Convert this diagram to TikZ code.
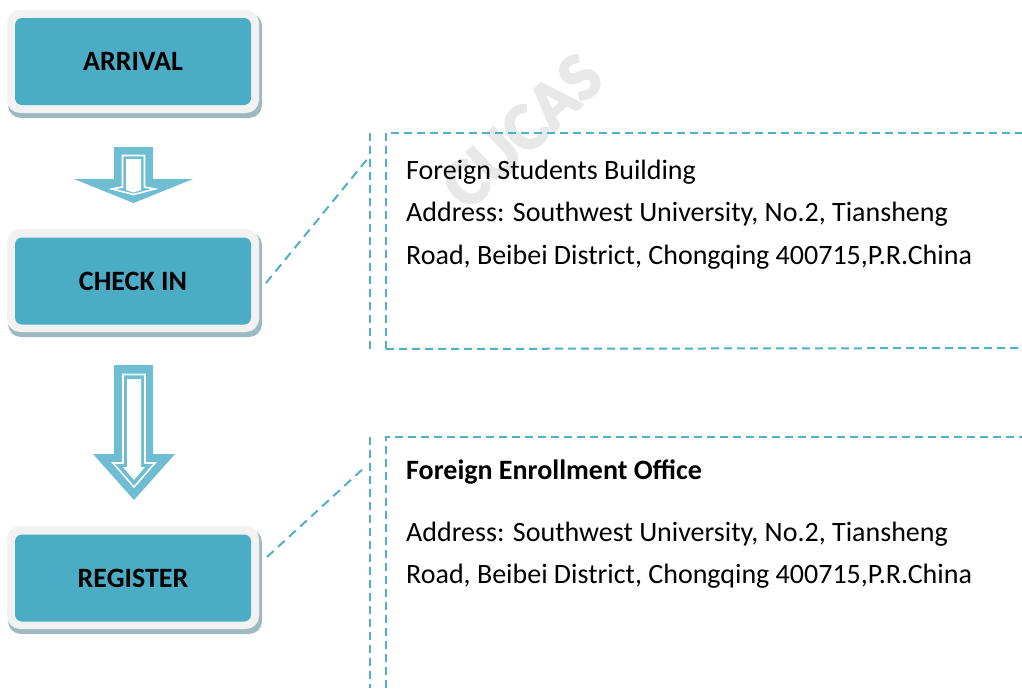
\documentclass[tikz,border=0pt]{standalone}
\usepackage{fontspec}
\setmainfont{Carlito}
\newfontfamily\markfont[FakeBold=3]{Carlito Bold}
\definecolor{boxfill}{HTML}{4BACC6}
\definecolor{rimcol}{HTML}{F2F2F2}
\definecolor{shadecol}{HTML}{9DB9C2}
\definecolor{arrowcol}{HTML}{6FBDD3}
\definecolor{dashcol}{HTML}{4FB0C8}
\definecolor{markcol}{HTML}{E8E8E8}
\tikzset{
  x=1pt,y=-1pt,
  stepbox/.style={rectangle,rounded corners=7pt,fill=boxfill,minimum width=236pt,minimum height=87pt,inner sep=0pt,text=black,font=\fontsize{28}{32}\selectfont\bfseries},
  rim/.style={fill=rimcol,rounded corners=13pt},
  shade/.style={fill=shadecol,rounded corners=13pt},
  dashline/.style={draw=dashcol,line width=2pt,dash pattern=on 8pt off 5pt},
  linkline/.style={draw=dashcol,line width=2pt,dash pattern=on 9pt off 6pt},
  arrowbody/.style={fill=arrowcol},
  arrowline/.style={draw=white,line width=1.6pt,fill=arrowcol},
  inwhite/.style={fill=white},
  info/.style={anchor=base west,inner sep=0pt,text=black,font=\fontsize{28}{32}\selectfont},
}
\newcommand{\stepshape}[1]{%
  \fill[shade] (8,#1+3) rectangle (262,#1+108);
  \fill[rim] (7,#1) rectangle (259,#1+103);
}
\begin{document}
\begin{tikzpicture}
\useasboundingbox (0,0) rectangle (1022,688);
\fill[white] (0,0) rectangle (1022,688);
% watermark
\node[rotate=43,text=markcol,font=\fontsize{68}{72}\markfont,inner sep=0pt] (mark) at (522,131) {CUCAS};
% step boxes
\stepshape{10}
\node[stepbox] (arrival) at (133,61.5) {ARRIVAL};
\stepshape{229}
\node[stepbox] (checkin) at (133,281) {CHECK IN};
\stepshape{526}
\node[stepbox] (register) at (133,578) {REGISTER};
% arrow 1
\fill[arrowbody] (114,147) -- (153,147) -- (153,179) -- (193,179) -- (133.5,203) -- (74,179) -- (114,179) -- cycle;
\draw[arrowline] (122.5,155.5) -- (144.5,155.5) -- (144.5,187) -- (155,189) -- (133.5,194.5) -- (112,189) -- (122.5,187) -- cycle;
\fill[inwhite] (126,159) -- (141,159) -- (141,190) -- (133.5,192.5) -- (126,190) -- cycle;
% arrow 2
\fill[arrowbody] (114,365) -- (153,365) -- (153,454) -- (175,454) -- (134,500) -- (93,454) -- (114,454) -- cycle;
\draw[arrowline] (123,374.5) -- (145,374.5) -- (145,463) -- (155,463) -- (134,487) -- (113,463) -- (123,463) -- cycle;
\fill[inwhite] (127,379) -- (141,379) -- (141,467) -- (145,467) -- (134,480) -- (123,467) -- (127,467) -- cycle;
% dashed frames
\coordinate (frameAa) at (370,133);
\coordinate (frameAb) at (370,349);
\coordinate (frameAc) at (386,133);
\coordinate (frameAd) at (386,349);
\coordinate (frameAe) at (1022,133);
\coordinate (frameAf) at (1018,348);
\draw[dashline] (frameAa) -- (frameAb);
\draw[dashline] (frameAd) -- (frameAc) -- (frameAe);
\draw[dashline] (frameAd) -- (frameAf);
\coordinate (frameBa) at (370,437);
\coordinate (frameBb) at (370,688);
\coordinate (frameBc) at (386,437);
\coordinate (frameBd) at (386,688);
\coordinate (frameBe) at (1022,437);
\draw[dashline] (frameBa) -- (frameBb);
\draw[dashline] (frameBd) -- (frameBc) -- (frameBe);
% connectors
\coordinate (linkA) at (369,157);
\coordinate (linkB) at (365,467);
\coordinate (startA) at (266,283);
\coordinate (startB) at (267,557);
\draw[linkline] (startA) -- (linkA);
\draw[linkline] (startB) -- (linkB);
% texts
\node[info] (a1) at (406,179) {Foreign Students Building};
\node[info] (a2) at (406,221) {Address: Southwest University, No.2, Tiansheng};
\node[info] (a3) at (406,264) {Road, Beibei District, Chongqing 400715,P.R.China};
\node[info,font=\fontsize{28}{32}\selectfont\bfseries] (b1) at (406,479) {Foreign Enrollment Office};
\node[info] (b2) at (406,541) {Address: Southwest University, No.2, Tiansheng};
\node[info] (b3) at (406,583) {Road, Beibei District, Chongqing 400715,P.R.China};
\end{tikzpicture}
\end{document}
